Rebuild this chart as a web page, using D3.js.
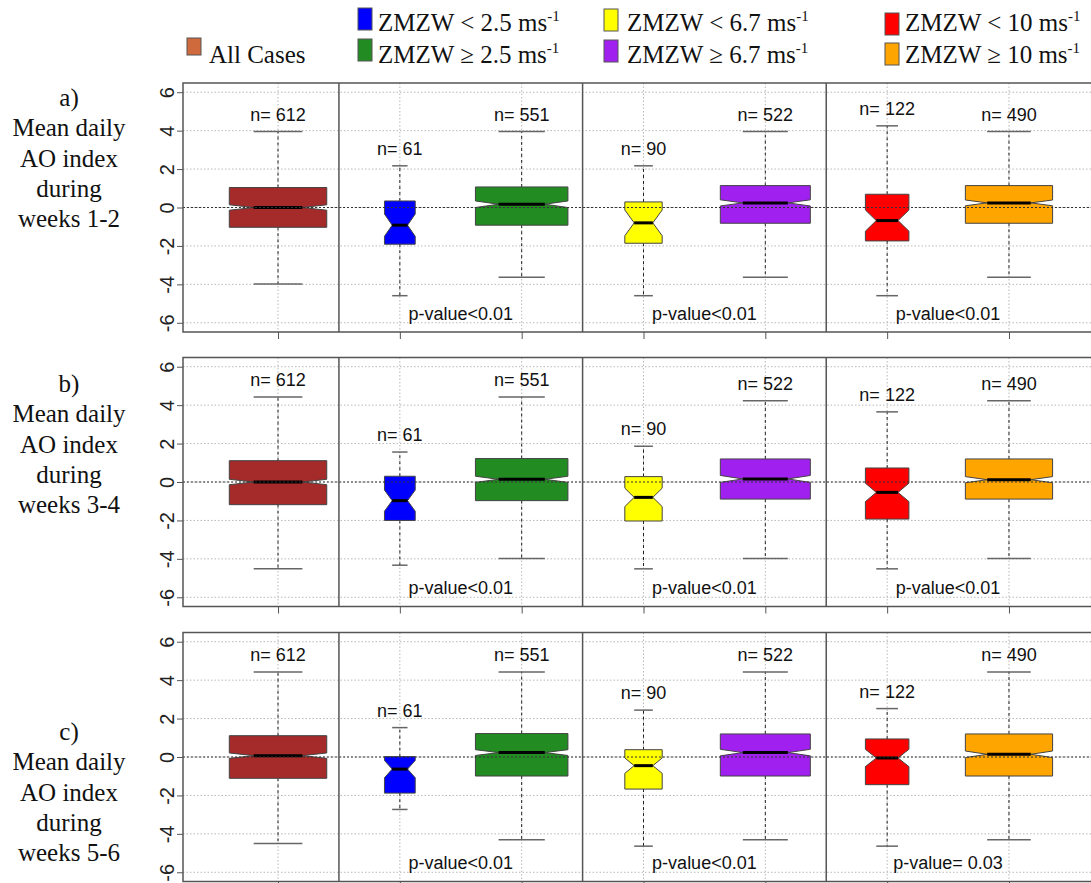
<!DOCTYPE html>
<html><head><meta charset="utf-8">
<script src="https://cdn.jsdelivr.net/npm/d3@7"></script>
<style>body{margin:0;background:#fff} .ytick{font-size:20px !important;}</style>
</head><body><svg id="c" width="1091" height="883"></svg>
<script>
// ---------- data ----------
const categories = ["All Cases","ZMZW < 2.5","ZMZW ≥ 2.5","ZMZW < 6.7","ZMZW ≥ 6.7","ZMZW < 10","ZMZW ≥ 10"];
const counts = [612, 61, 551, 90, 522, 122, 490];
const boxColors = ["#A52A2A","#0000FF","#228B22","#FFFF00","#A020F0","#FF0000","#FFA500"];
const panelLetters = ["a)","b)","c)"];
const panelWeeks = ["weeks 1-2","weeks 3-4","weeks 5-6"];
const yTicks = [-6, -4, -2, 0, 2, 4, 6];
// rows: panels a, b, c ; columns: categories
const upperWhisker = [
  [3.95, 2.17, 3.95, 2.17, 3.95, 4.25, 3.95],
  [4.43, 1.56, 4.43, 1.86, 4.23, 3.65, 4.23],
  [4.43, 1.53, 4.43, 2.44, 4.43, 2.52, 4.43]
];
const upperQuartile = [
  [1.04, 0.34, 1.07, 0.29, 1.14, 0.69, 1.14],
  [1.11, 0.30, 1.22, 0.28, 1.20, 0.73, 1.20],
  [1.11, 0.02, 1.22, 0.38, 1.20, 0.94, 1.20]
];
const medians = [
  [0.00, -0.92, 0.17, -0.80, 0.24, -0.68, 0.24],
  [0.00, -0.97, 0.14, -0.80, 0.16, -0.54, 0.12],
  [0.07, -0.63, 0.23, -0.45, 0.23, -0.05, 0.14]
];
const lowerQuartile = [
  [-1.03, -1.91, -0.92, -1.86, -0.82, -1.74, -0.82],
  [-1.18, -2.00, -0.97, -2.03, -0.89, -1.93, -0.89],
  [-1.11, -1.88, -0.99, -1.67, -0.99, -1.44, -0.99]
];
const lowerWhisker = [
  [-3.98, -4.59, -3.63, -4.59, -3.63, -4.59, -3.63],
  [-4.52, -4.33, -3.98, -4.52, -3.98, -4.52, -3.98],
  [-4.50, -2.73, -4.31, -4.64, -4.31, -4.64, -4.31]
];
const notchHalf = [
  [0.14, 0.58, 0.17, 0.67, 0.16, 0.55, 0.15],
  [0.14, 0.55, 0.16, 0.48, 0.18, 0.48, 0.16],
  [0.14, 0.45, 0.15, 0.40, 0.17, 0.45, 0.17]
];
const pValueLabels = [
  ["p-value<0.01","p-value<0.01","p-value<0.01"],
  ["p-value<0.01","p-value<0.01","p-value<0.01"],
  ["p-value<0.01","p-value<0.01","p-value= 0.03"]
];
const pValuePositions = [2.5, 4.5, 6.5];
const legendAll = "All Cases";
const legendLower = ["ZMZW < 2.5 ms","ZMZW < 6.7 ms","ZMZW < 10 ms"];
const legendUpper = ["ZMZW ≥ 2.5 ms","ZMZW ≥ 6.7 ms","ZMZW ≥ 10 ms"];
const legendLowerColors = ["#0000FF","#FFFF00","#FF0000"];
const legendUpperColors = ["#228B22","#A020F0","#FFA500"];
const legendAllColor = "#CF6A3C";

// ---------- drawing ----------
const svg = d3.select("#c");
const sans = "'Liberation Sans', Arial, sans-serif";
const serif = "'Liberation Serif', 'Times New Roman', serif";
const x = d3.scaleLinear().domain([0.22, 7.78]).range([183, 1104]);
const panelTops = [83, 357.5, 632.5];
const panelH = 249;
const maxSqrt = Math.sqrt(d3.max(counts));
const labelBaselines = [106, 392, 740];

panelTops.forEach((top, p) => {
  const y = d3.scaleLinear().domain([-6.48, 6.48]).range([top + panelH, top]);
  const g = svg.append("g");
  const left = 183, right = 1104;

  // horizontal grid
  g.selectAll(null).data(yTicks).join("line")
    .attr("x1", left).attr("x2", right)
    .attr("y1", d => y(d)).attr("y2", d => y(d))
    .attr("stroke", "#b8b8b8").attr("stroke-width", 1).attr("stroke-dasharray", "1.5,2");
  // vertical grid at each box
  g.selectAll(null).data(d3.range(1, 8)).join("line")
    .attr("x1", d => x(d)).attr("x2", d => x(d))
    .attr("y1", top).attr("y2", top + panelH)
    .attr("stroke", "#b8b8b8").attr("stroke-width", 1).attr("stroke-dasharray", "1.5,2");

  // y axis
  const ya = g.append("g").attr("transform", `translate(${left},0)`)
    .call(d3.axisLeft(y).tickValues(yTicks).tickSize(6).tickFormat(d => String(d)));
  ya.attr("font-size", 20).attr("font-family", sans);
  ya.select(".domain").remove();
  ya.selectAll(".tick line").attr("stroke", "#555");
  ya.selectAll(".tick text")
    .classed("ytick", true)
    .attr("x", null).attr("dy", null)
    .attr("transform", "translate(-9,0) rotate(-90)")
    .attr("text-anchor", "middle")
    .style("font-family", sans).style("font-size", "20px").attr("fill", "#222");

  // bottom ticks
  const xa = g.append("g").attr("transform", `translate(0,${top + panelH})`)
    .call(d3.axisBottom(x).tickValues(d3.range(1, 8)).tickSize(7).tickFormat(""));
  xa.select(".domain").remove();
  xa.selectAll(".tick line").attr("stroke", "#555");

  // boxes
  categories.forEach((cat, i) => {
    const cx = x(i + 1);
    const hw = x(1 + 0.4 * Math.sqrt(counts[i]) / maxSqrt) - x(1);
    const q1 = lowerQuartile[p][i], q3 = upperQuartile[p][i], med = medians[p][i], nh = notchHalf[p][i];
    const up = upperWhisker[p][i], lo = lowerWhisker[p][i];
    // whiskers
    g.append("line").attr("x1", cx).attr("x2", cx).attr("y1", y(q3)).attr("y2", y(up))
      .attr("stroke", "#222").attr("stroke-dasharray", "3,3");
    g.append("line").attr("x1", cx).attr("x2", cx).attr("y1", y(q1)).attr("y2", y(lo))
      .attr("stroke", "#222").attr("stroke-dasharray", "3,3");
    // caps
    [up, lo].forEach(v => {
      g.append("line").attr("x1", cx - hw / 2).attr("x2", cx + hw / 2)
        .attr("y1", y(v)).attr("y2", y(v)).attr("stroke", "#666").attr("stroke-width", 1.5);
    });
    // notched box
    const pts = [
      [cx - hw, y(q1)], [cx + hw, y(q1)], [cx + hw, y(med - nh)], [cx + hw / 2, y(med)],
      [cx + hw, y(med + nh)], [cx + hw, y(q3)], [cx - hw, y(q3)], [cx - hw, y(med + nh)],
      [cx - hw / 2, y(med)], [cx - hw, y(med - nh)]
    ];
    g.append("polygon").attr("points", pts.map(d => d.join(",")).join(" "))
      .attr("fill", boxColors[i]).attr("stroke", "#444").attr("stroke-width", 1);
    // median
    g.append("line").attr("x1", cx - hw / 2).attr("x2", cx + hw / 2)
      .attr("y1", y(med)).attr("y2", y(med)).attr("stroke", "#000").attr("stroke-width", 3);
    // n label
    g.append("text").attr("x", cx).attr("y", y(up) - 11)
      .attr("text-anchor", "middle").attr("font-family", sans).attr("font-size", 18)
      .attr("fill", "#111").text("n= " + counts[i]);
  });

  // zero line
  g.append("line").attr("x1", left).attr("x2", right).attr("y1", y(0)).attr("y2", y(0))
    .attr("stroke", "#333").attr("stroke-width", 1).attr("stroke-dasharray", "2,2");

  // p-values
  pValuePositions.forEach((pos, k) => {
    g.append("text").attr("x", x(pos)).attr("y", y(-5.5) + 6.5)
      .attr("text-anchor", "middle").attr("font-family", sans).attr("font-size", 18)
      .attr("fill", "#111").text(pValueLabels[p][k]);
  });

  // frame and separators
  g.append("rect").attr("x", left).attr("y", top).attr("width", right - left).attr("height", panelH)
    .attr("fill", "none").attr("stroke", "#555").attr("stroke-width", 1.5);
  [1.5, 3.5, 5.5].forEach(s => {
    g.append("line").attr("x1", x(s)).attr("x2", x(s)).attr("y1", top).attr("y2", top + panelH)
      .attr("stroke", "#555").attr("stroke-width", 1.5);
  });

  // left label
  const lines = [panelLetters[p], "Mean daily", "AO index", "during", panelWeeks[p]];
  const t = svg.append("text").attr("font-family", serif).attr("font-size", 25)
    .attr("text-anchor", "middle").attr("fill", "#111");
  lines.forEach((ln, k) => {
    t.append("tspan").attr("x", 69).attr("y", labelBaselines[p] + k * 30.3).text(ln);
  });
});

// ---------- legend ----------
const lg = svg.append("g");
lg.append("rect").attr("x", 187).attr("y", 38).attr("width", 14).attr("height", 17)
  .attr("fill", legendAllColor).attr("stroke", "#555");
lg.append("text").attr("x", 209).attr("y", 63).attr("font-family", serif).attr("font-size", 25)
  .attr("fill", "#111").text(legendAll);

const colX = [358, 604, 885];
const swY1 = [8, 9, 13];
const swY2 = [39, 40, 43];
const textX = [378, 627, 905];
function legendText(xp, yp, str) {
  const t = lg.append("text").attr("x", xp).attr("y", yp).attr("font-family", serif)
    .attr("font-size", 25).attr("fill", "#111");
  t.append("tspan").text(str);
  t.append("tspan").attr("font-size", 15).attr("dy", -10).text("-1");
}
legendLower.forEach((s, k) => {
  lg.append("rect").attr("x", colX[k]).attr("y", swY1[k]).attr("width", 14).attr("height", 22)
    .attr("fill", legendLowerColors[k]).attr("stroke", "#555");
  legendText(textX[k], 31, s);
  lg.append("rect").attr("x", colX[k]).attr("y", swY2[k]).attr("width", 14).attr("height", 22)
    .attr("fill", legendUpperColors[k]).attr("stroke", "#555");
  legendText(textX[k], 62.5, legendUpper[k]);
});
</script>
</body></html>
